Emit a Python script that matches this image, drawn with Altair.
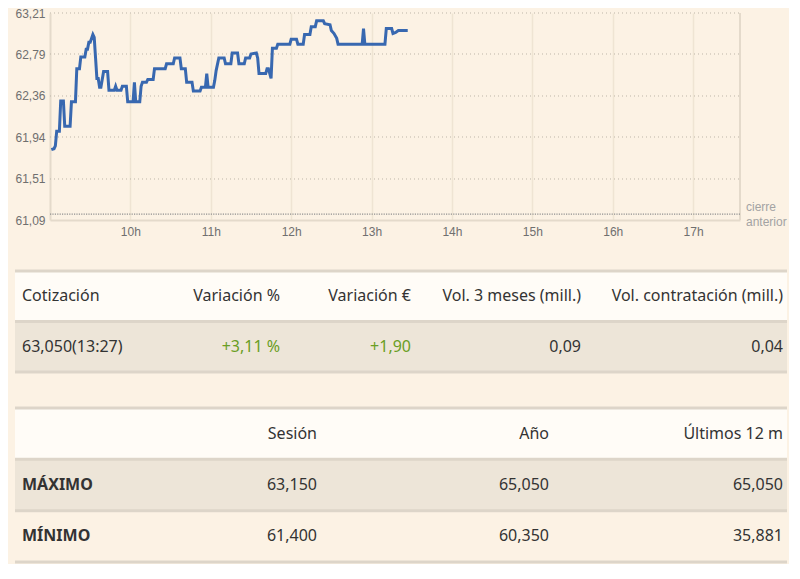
import altair as alt
import pandas as pd

# ---------------- data ----------------
times = ["9:01", "9:03", "9:04", "9:05", "9:07", "9:08", "9:10", "9:11", "9:15", "9:16",
         "9:19", "9:20", "9:22", "9:23", "9:26", "9:27", "9:28", "9:29", "9:30", "9:31",
         "9:32", "9:33", "9:34", "9:35", "9:36", "9:37", "9:38", "9:40", "9:43", "9:44",
         "9:48", "9:49", "9:50", "9:53", "9:54", "9:57", "9:58", "10:02", "10:03", "10:04",
         "10:07", "10:08", "10:09", "10:12", "10:13", "10:17", "10:18", "10:26", "10:27", "10:32",
         "10:33", "10:37", "10:38", "10:41", "10:42", "10:46", "10:47", "10:52", "10:53", "10:56",
         "10:57", "10:58", "11:02", "11:03", "11:04", "11:06", "11:10", "11:11", "11:15", "11:16",
         "11:20", "11:21", "11:25", "11:26", "11:29", "11:30", "11:34", "11:35", "11:36", "11:41",
         "11:42", "11:43", "11:45", "11:46", "11:49", "11:50", "11:59", "12:00", "12:04", "12:05",
         "12:09", "12:10", "12:14", "12:15", "12:18", "12:19", "12:24", "12:25", "12:29", "12:30",
         "12:32", "12:34", "12:35", "12:53", "12:54", "12:55", "13:10", "13:11", "13:15", "13:16",
         "13:18", "13:20", "13:27"]
prices = [61.81, 61.82, 61.85, 62.00, 62.00, 62.31, 62.31, 62.05, 62.05, 62.30,
          62.30, 62.64, 62.64, 62.76, 62.76, 62.84, 62.84, 62.91, 62.91, 62.95,
          62.99, 62.96, 62.75, 62.54, 62.54, 62.45, 62.45, 62.61, 62.61, 62.42,
          62.42, 62.46, 62.42, 62.42, 62.46, 62.46, 62.30, 62.30, 62.50, 62.30,
          62.30, 62.46, 62.50, 62.50, 62.53, 62.53, 62.64, 62.64, 62.69, 62.69,
          62.75, 62.75, 62.64, 62.64, 62.50, 62.50, 62.41, 62.41, 62.45, 62.45,
          62.59, 62.45, 62.45, 62.52, 62.62, 62.75, 62.75, 62.69, 62.69, 62.80,
          62.80, 62.69, 62.69, 62.75, 62.75, 62.79, 62.80, 62.75, 62.59, 62.59,
          62.64, 62.64, 62.54, 62.85, 62.85, 62.89, 62.89, 62.94, 62.94, 62.89,
          62.89, 62.99, 62.99, 63.07, 63.07, 63.13, 63.13, 63.10, 63.09, 63.03,
          63.00, 62.95, 62.89, 62.89, 63.05, 62.89, 62.89, 63.05, 63.05, 63.00,
          63.01, 63.03, 63.03]

y_ticks = [61.09, 61.51, 61.94, 62.36, 62.79, 63.21]
x_hours = [10, 11, 12, 13, 14, 15, 16, 17]
prev_close = 61.15
session_start = 9.0
session_end = 17 + 35 / 60
prev_close_label = "cierre\nanterior"

t1_header = ["Cotización", "Variación %", "Variación €", "Vol. 3 meses (mill.)", "Vol. contratación (mill.)"]
t1_values = ["63,050(13:27)", "+3,11 %", "+1,90", "0,09", "0,04"]
t1_tone = ["normal", "up", "up", "normal", "normal"]

t2_header = ["", "Sesión", "Año", "Últimos 12 m"]
t2_max = ["MÁXIMO", "63,150", "65,050", "65,050"]
t2_min = ["MÍNIMO", "61,400", "60,350", "35,881"]

# ---------------- styles ----------------
BG = "#fcf2e4"
HEAD_BG = "#fffcf7"
BAND_BG = "#ede5d8"
SEP = "#ddd5c9"
BORDER = "#e4dacb"
GRID = "#bdb5a8"
VGRID = "#efe4d3"
LINE = "#3868b0"
TXT = "#333333"
GREEN = "#6a9e24"
AX_TXT = "#6f6f6f"
AX_FONT = "Liberation Sans"
TB_FONT = "Noto Sans"
W = 772
H_LINE = 207


def to_hours(s):
    h, m = s.split(":")
    return int(h) + int(m) / 60


line_df = pd.DataFrame({"t": [to_hours(t) for t in times], "p": prices})

xscale = alt.Scale(domain=[session_start, session_end], range=[35, 725], nice=False, zero=False)
yscale = alt.Scale(domain=[y_ticks[0], y_ticks[-1]], nice=False, zero=False)
x_axis = alt.Axis(values=x_hours, labelExpr="datum.value + 'h'", title=None, grid=True,
                  gridColor=VGRID, gridWidth=1.5, domain=True, domainColor=BORDER, domainWidth=2,
                  ticks=False, labelPadding=6, labelColor=AX_TXT, labelFont=AX_FONT, labelFontSize=12)
y_axis = alt.Axis(values=y_ticks, labelExpr="replace(format(datum.value, '.2f'), '.', ',')",
                  title=None, grid=False, domain=True, domainColor=BORDER, domainWidth=2,
                  ticks=False, offset=-35, labelPadding=5, labelColor=AX_TXT, labelFont=AX_FONT,
                  labelFontSize=12)


def X(f):
    return alt.X(f, type="quantitative", scale=xscale, axis=x_axis)


def Y(f):
    return alt.Y(f, type="quantitative", scale=yscale, axis=y_axis)


grid_df = pd.DataFrame({"y": y_ticks[1:], "x0": session_start, "x1": session_end})
grid = alt.Chart(grid_df).mark_rule(color=GRID, strokeDash=[1, 3], strokeWidth=1).encode(
    x=X("x0"), x2="x1", y=Y("y"))

right_df = pd.DataFrame({"x": [session_end], "y0": [y_ticks[0]], "y1": [y_ticks[-1]]})
right_border = alt.Chart(right_df).mark_rule(color=BORDER, strokeWidth=2).encode(
    x=X("x"), y=Y("y0"), y2="y1")

prev_df = pd.DataFrame({"y": [prev_close], "x0": [session_start], "x1": [session_end],
                        "label": [prev_close_label]})
prev_rule = alt.Chart(prev_df).mark_rule(color="#8f8f8f", strokeDash=[1.2, 1.2], strokeWidth=1.3).encode(
    x=X("x0"), x2="x1", y=Y("y"))
prev_text = alt.Chart(prev_df).mark_text(
    align="left", baseline="middle", dx=6, dy=-7, lineBreak="\n", lineHeight=15,
    font=AX_FONT, fontSize=12, color="#a3a3a3").encode(x=X("x1"), y=Y("y"), text="label:N")

line = alt.Chart(line_df).mark_line(color=LINE, strokeWidth=3).encode(x=X("t"), y=Y("p"))

line_chart = alt.layer(grid, right_border, prev_rule, line, prev_text).properties(width=W, height=H_LINE)


# ---------------- tables ----------------
def build_table(rows, shades, cells, col_range, height):
    ys = alt.Scale(domain=rows, paddingInner=0, paddingOuter=0)
    xs = alt.Scale(domain=list(range(len(col_range))), range=col_range, zero=False, nice=False)
    rows_df = pd.DataFrame({"row": rows, "shade": shades})
    bg = alt.Chart(rows_df).mark_rect().encode(
        y=alt.Y("row:N", scale=ys, axis=None),
        x=alt.value(0), x2=alt.value("width"),
        fill=alt.Color("shade:N", scale=alt.Scale(domain=["head", "band", "plain"],
                                                  range=[HEAD_BG, BAND_BG, BG]), legend=None))
    tops = alt.Chart(rows_df).mark_rule(color=SEP, strokeWidth=3).encode(
        y=alt.Y("row:N", scale=ys, axis=None, bandPosition=0),
        x=alt.value(0), x2=alt.value("width"))
    bottom = alt.Chart(rows_df.tail(1)).mark_rule(color=SEP, strokeWidth=3).encode(
        y=alt.Y("row:N", scale=ys, axis=None, bandPosition=1),
        x=alt.value(0), x2=alt.value("width"))
    df = pd.DataFrame(cells, columns=["row", "col", "text", "tone", "weight"])
    df = df[df["text"] != ""]
    color = alt.Color("tone:N", scale=alt.Scale(domain=["normal", "up"], range=[TXT, GREEN]), legend=None)
    layers = [bg, tops, bottom]
    for align, wt, cond in [("left", "normal", "datum.col == 0 && datum.weight == 'normal'"),
                            ("left", "bold", "datum.col == 0 && datum.weight == 'bold'"),
                            ("right", "normal", "datum.col > 0")]:
        layers.append(alt.Chart(df).transform_filter(cond).mark_text(
            align=align, baseline="middle", font=TB_FONT, fontSize=16, fontWeight=wt).encode(
            x=alt.X("col:Q", scale=xs, axis=None),
            y=alt.Y("row:N", scale=ys, axis=None),
            text="text:N", color=color))
    return alt.layer(*layers).properties(width=W, height=height)


cells1 = []
for i, (h, v, tone) in enumerate(zip(t1_header, t1_values, t1_tone)):
    cells1.append(["h", i, h, "normal", "normal"])
    cells1.append(["d", i, v, tone, "normal"])
table1 = build_table(["h", "d"], ["head", "band"], cells1, [7, 265, 396, 566, 768], 101)

cells2 = []
for i, h in enumerate(t2_header):
    cells2.append(["h", i, h, "normal", "normal"])
for i, v in enumerate(t2_max):
    cells2.append(["max", i, v, "normal", "bold" if i == 0 else "normal"])
for i, v in enumerate(t2_min):
    cells2.append(["min", i, v, "normal", "bold" if i == 0 else "normal"])
table2 = build_table(["h", "max", "min"], ["head", "band", "plain"], cells2, [7, 302, 534, 768], 154)

tables = alt.vconcat(table1, table2, spacing=32)

chart = alt.vconcat(line_chart, tables, spacing=31).properties(
    padding={"left": 5, "top": -2, "right": 0, "bottom": 0}
).configure(background=BG).configure_view(stroke="transparent")

chart.save("out.html", embed_options={"renderer": "svg", "actions": False})
